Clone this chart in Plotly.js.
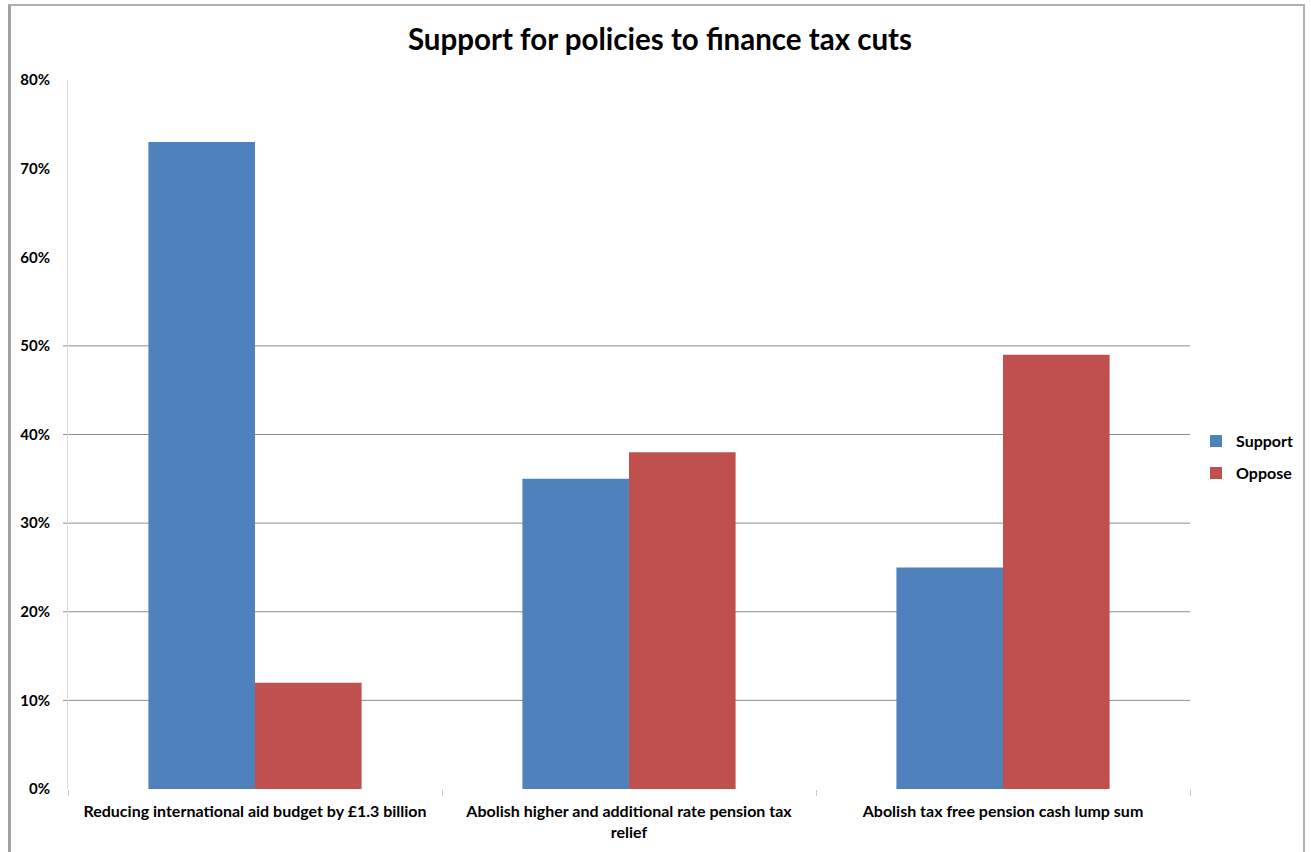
<!DOCTYPE html>
<html>
<head>
<meta charset="utf-8">
<script src="https://cdn.plot.ly/plotly-3.0.1.min.js"></script>
<style>
  html, body { margin: 0; padding: 0; background: #fff; }
  #wrap { position: relative; width: 1311px; height: 852px; overflow: hidden; }
  #chart { width: 1311px; height: 852px; }
  #frame { position: absolute; left: 8px; top: 4px; width: 1297px; height: 860px;
           border-left: 3px solid #a0a0a0; border-top: 2px solid #b0b0b0; border-right: 2px solid #b0b0b0;
           pointer-events: none; box-sizing: border-box; }
</style>
</head>
<body>
<div id="wrap">
  <div id="chart"></div>
  <div id="frame"></div>
</div>
<script>
const categories = [
  "Reducing international aid budget by £1.3 billion",
  "Abolish higher and additional rate pension tax<br>relief",
  "Abolish tax free pension cash lump sum"
];
const supportValues = [73, 35, 25];
const opposeValues = [12, 38, 49];
const seriesNames = ["Support", "Oppose"];
const yTickValues = [0, 10, 20, 30, 40, 50, 60, 70, 80];
const yTickLabels = ["0%", "10%", "20%", "30%", "40%", "50%", "60%", "70%", "80%"];
const gridValues = [10, 20, 30, 40, 50];

const font = "Lato, 'Open Sans', Arial, sans-serif";

const traces = [
  { type: "bar", name: seriesNames[0], x: categories, y: supportValues, legendgroup: "s",
    marker: { color: "#4F81BD" }, hoverinfo: "skip" },
  { type: "bar", name: seriesNames[1], x: categories, y: opposeValues, legendgroup: "o",
    marker: { color: "#C0504D" }, hoverinfo: "skip" }
];

const gridShapes = gridValues.map(v => ({
  type: "line", xref: "paper", yref: "y",
  x0: -5 / 1122, x1: 1, y0: v, y1: v,
  line: { color: "#8c8c8c", width: 1 }, layer: "below"
}));

const layout = {
  width: 1311, height: 852,
  margin: { l: 68, r: 121, t: 80, b: 63 },
  paper_bgcolor: "#ffffff", plot_bgcolor: "#ffffff",
  barmode: "group", bargap: 0.43, bargroupgap: 0,
  title: { text: "<b>Support for policies to finance tax cuts</b>",
           font: { family: font, size: 29.5, color: "#000" },
           x: 660 / 1311, xanchor: "center", xref: "container", y: 0.953, yanchor: "middle" },
  showlegend: true,
  legend: { x: 1 + 6 / 1122, xanchor: "left", y: 0.468, yanchor: "middle", xref: "paper",
            font: { family: font, size: 16, color: "#000", weight: "bold" },
            tracegroupgap: 8, itemwidth: 30, traceorder: "grouped" },
  shapes: gridShapes,
  xaxis: {
    type: "category",
    tickson: "boundaries",
    ticks: "outside", ticklen: 6, tickcolor: "#c8c8c8",
    showline: false,
    showgrid: false,
    ticklabelstandoff: 11,
    tickfont: { family: font, size: 16, color: "#000", weight: "bold" },
    fixedrange: true
  },
  yaxis: {
    range: [0, 80],
    tickvals: yTickValues,
    ticktext: yTickLabels,
    showgrid: false,
    showline: true, linecolor: "#d9d9d9", linewidth: 1,
    zeroline: false,
    ticks: "", ticklabelstandoff: 14,
    tickfont: { family: font, size: 15, color: "#000", weight: "bold" },
    fixedrange: true
  }
};

Plotly.newPlot("chart", traces, layout, { staticPlot: true, displayModeBar: false });
</script>
</body>
</html>
